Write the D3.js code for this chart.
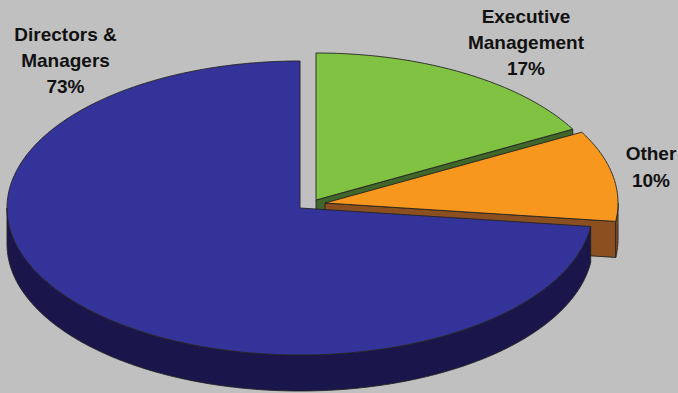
<!DOCTYPE html>
<html>
<head>
<meta charset="utf-8">
<script src="https://cdn.jsdelivr.net/npm/d3@7"></script>
<style>
html,body{margin:0;padding:0;background:#c0c0c0;overflow:hidden}
svg{display:block}
text{font-family:"Liberation Sans",Arial,sans-serif;font-weight:700;font-size:19px;fill:#111;text-anchor:middle}
</style>
</head>
<body>
<svg id="chart" width="678" height="393"></svg>
<script>
// Ownership shares, clockwise from twelve o'clock
const categories = ["Executive Management", "Other", "Directors & Managers"];
const shares = [17, 10, 73];
const topColors = ["#80c342", "#f8971d", "#333399"];
const wallColors = ["#41662a", "#8c5020", "#1a164c"];

// Label layout: one entry per category
const labelLines = [["Executive", "Management", "17%"], ["Other", "10%"], ["Directors &", "Managers", "73%"]];
const labelX = [526, 651, 65.5];
const labelY = [[23, 49, 75], [160, 187], [41, 67, 93]];

// Exploded centres of each slice
const centreX = [316, 325, 300];
const centreY = [200, 203, 208];
const radiusX = 293, radiusY = 147, depth = 36;

const svg = d3.select("#chart");
const slices = d3.pie().sort(null).value(d => d)(shares);
const line = d3.line();

// Projects a pie angle (0 at top, clockwise) at radius r onto the tilted disc
function project(i, angle, r, drop) {
  const sx = d3.scaleLinear().domain([-1, 1]).range([centreX[i] - radiusX, centreX[i] + radiusX]);
  const sy = d3.scaleLinear().domain([-1, 1]).range([centreY[i] - radiusY, centreY[i] + radiusY]);
  return [sx(r * Math.sin(angle)), sy(-r * Math.cos(angle)) + drop];
}
function arcPoints(i, a0, a1, drop) {
  const n = Math.max(2, Math.ceil((a1 - a0) / 0.01));
  return d3.range(n + 1).map(k => project(i, a0 + (a1 - a0) * k / n, 1, drop));
}
function style(sel, fill) {
  return sel.attr("fill", fill).attr("stroke", "#222").attr("stroke-width", 0.9).attr("stroke-linejoin", "round");
}

// Side walls are painted first, the tops of later slices cover them
[0, 1, 2].forEach(i => {
  const s = slices[i];
  if (i < 2) {
    const apex = project(i, 0, 0, 0), rim = project(i, s.endAngle, 1, 0);
    style(svg.append("path"), wallColors[i]).attr("d", line([apex, rim, [rim[0], rim[1] + depth], [apex[0], apex[1] + depth]]) + "Z");
  }
});
[0, 1, 2].forEach(i => {
  const s = slices[i];
  const from = Math.max(s.startAngle, Math.PI / 2), to = Math.min(s.endAngle, 3 * Math.PI / 2);
  if (to > from) {
    const up = arcPoints(i, from, to, 0), down = arcPoints(i, from, to, depth).reverse();
    style(svg.append("path"), wallColors[i]).attr("d", line(up.concat(down)) + "Z");
  }
});
[0, 1, 2].forEach(i => {
  const s = slices[i];
  const pts = [project(i, 0, 0, 0)].concat(arcPoints(i, s.startAngle, s.endAngle, 0));
  style(svg.append("path"), topColors[i]).attr("d", line(pts) + "Z");
});

// Category labels
labelLines.forEach((rows, i) => {
  rows.forEach((row, k) => {
    svg.append("text").attr("x", labelX[i]).attr("y", labelY[i][k]).text(row);
  });
});
</script>
</body>
</html>
